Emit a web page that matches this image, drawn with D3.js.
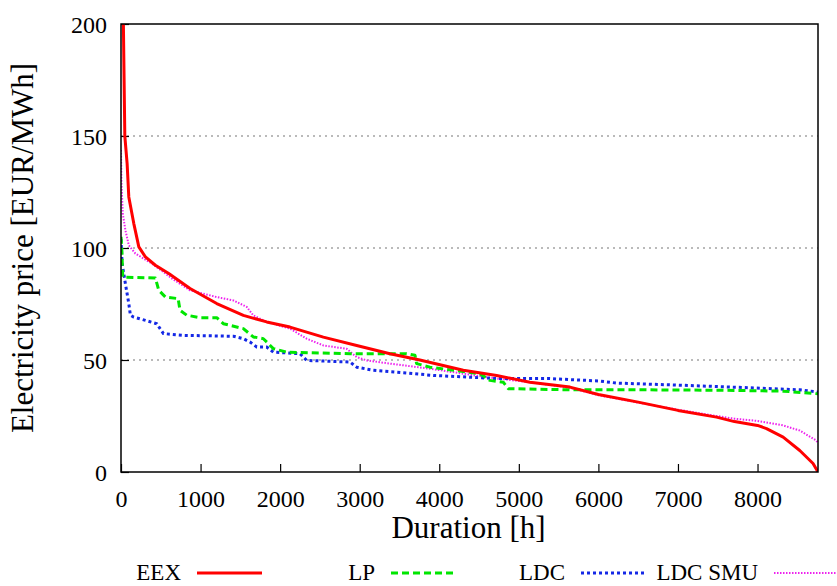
<!DOCTYPE html>
<html>
<head>
<meta charset="utf-8">
<script src="https://cdn.jsdelivr.net/npm/d3@7"></script>
<style>
  html, body { margin: 0; padding: 0; background: #fff; }
  svg { display: block; }
  svg text { font-family: "Liberation Serif", "DejaVu Serif", "Times New Roman", serif; }
</style>
</head>
<body>
<div id="chart"></div>
<script>
// price duration curves (hours, EUR/MWh)
const eexHours = [0, 30, 48, 77, 98, 161, 224, 307, 432, 600, 868, 1203, 1538, 1831, 2124, 2543, 2962, 3380, 3756, 4302, 4721, 5139, 5642, 6000, 6500, 7000, 7485, 7710, 8000, 8113, 8322, 8531, 8698, 8760];
const eexPrice = [260, 200, 150, 137.7, 122.8, 110.9, 100.5, 96, 92.3, 88.6, 81.9, 75.2, 69.9, 67.0, 64.7, 60.2, 56.5, 52.8, 50, 45.4, 43.1, 40.1, 37.9, 34.6, 31.2, 27.5, 24.5, 22.5, 20.8, 19.4, 15.6, 9.6, 3.8, 0];

const lpHours = [0, 10, 22, 432, 475, 558, 718, 742, 826, 994, 1203, 1286, 1538, 1663, 1789, 1915, 2083, 2878, 3590, 3695, 3715, 3883, 4510, 4636, 4804, 4867, 5642, 6500, 7500, 8322, 8760];
const lpPrice = [105, 100, 87, 86.6, 81.1, 78.1, 77.4, 72.2, 70, 68.9, 68.9, 66.2, 64, 60.3, 59.5, 55.1, 53.5, 52.8, 52.8, 52.1, 48.4, 46.8, 43.9, 40.9, 40.1, 37.2, 36.7, 36.7, 36.5, 36.1, 34.9];

const ldcHours = [0, 14, 55, 98, 118, 156, 307, 450, 491, 533, 784, 1412, 1538, 1622, 1706, 1831, 1915, 2250, 2334, 2878, 2962, 3171, 3590, 3925, 4343, 4721, 5390, 6020, 6229, 7066, 7904, 8531, 8760];
const ldcPrice = [104, 93, 84.1, 75.2, 70, 69.2, 67.7, 66.2, 64, 61.8, 61, 60.6, 59.5, 58, 55.8, 55.8, 53.5, 52.8, 49.8, 49.1, 46.8, 45.4, 44.2, 43.1, 42.4, 41.7, 41.7, 40.6, 39.7, 38.7, 37.6, 36.7, 35.7];

const smuHours = [0, 5, 22, 55, 98, 181, 390, 558, 642, 868, 1203, 1412, 1580, 1663, 1831, 2124, 2334, 2543, 2837, 2962, 3088, 3380, 3883, 4302, 4721, 5139, 5642, 6000, 6500, 7000, 7485, 7710, 8000, 8322, 8531, 8741, 8760];
const smuPrice = [143.7, 130, 115.4, 108, 101.2, 97.5, 93, 88.6, 86.3, 81.1, 78.1, 76.6, 73.7, 69.9, 67, 64, 59.5, 56.5, 55, 51.3, 49.8, 48.4, 46.1, 43.9, 41.7, 40.1, 37.6, 34.3, 31, 27.8, 25, 23.8, 22.8, 20.8, 18.5, 14, 12.7];

const xTicks = [0, 1000, 2000, 3000, 4000, 5000, 6000, 7000, 8000];
const yTicks = [0, 50, 100, 150, 200];
const gridValues = [50, 100, 150];

const seriesNames = ["EEX", "LP", "LDC", "LDC SMU"];
const seriesColors = ["#ff0000", "#00e600", "#1428e6", "#ee22ee"];

const W = 837, H = 586;
const margin = {left: 121, right: 19, top: 24, bottom: 114};
const FONT = "'Liberation Serif', 'DejaVu Serif', serif";

const series = [
  {name: seriesNames[0], color: seriesColors[0], width: 3, dash: null, pts: eexHours.map((h, i) => [h, eexPrice[i]])},
  {name: seriesNames[1], color: seriesColors[1], width: 3, dash: "7 4", pts: lpHours.map((h, i) => [h, lpPrice[i]])},
  {name: seriesNames[2], color: seriesColors[2], width: 3, dash: "3 3", pts: ldcHours.map((h, i) => [h, ldcPrice[i]])},
  {name: seriesNames[3], color: seriesColors[3], width: 2, dash: "1.5 1.5", pts: smuHours.map((h, i) => [h, smuPrice[i]])}
];

const svg = d3.select("#chart").append("svg")
  .attr("width", W)
  .attr("height", H)
  .attr("font-family", FONT);

const x = d3.scaleLinear().domain([0, 8760]).range([margin.left, W - margin.right]);
const y = d3.scaleLinear().domain([0, 200]).range([H - margin.bottom, margin.top]);

svg.append("clipPath").attr("id", "plotclip")
  .append("rect")
  .attr("x", x(0)).attr("y", y(200))
  .attr("width", x(8760) - x(0)).attr("height", y(0) - y(200));

// dotted grid
svg.append("g")
  .selectAll("line")
  .data(gridValues)
  .join("line")
  .attr("x1", x(0)).attr("x2", x(8760))
  .attr("y1", d => y(d)).attr("y2", d => y(d))
  .attr("stroke", "#777")
  .attr("stroke-width", 1.2)
  .attr("stroke-dasharray", "2 4");

// axes, ticks pointing inward
const xAxis = svg.append("g")
  .attr("transform", `translate(0,${y(0)})`)
  .call(d3.axisBottom(x).tickValues(xTicks).tickSize(-8).tickPadding(18).tickFormat(d3.format("d")));
const yAxis = svg.append("g")
  .attr("transform", `translate(${x(0)},0)`)
  .call(d3.axisLeft(y).tickValues(yTicks).tickSize(-8).tickPadding(14).tickFormat(d3.format("d")));

[xAxis, yAxis].forEach(g => {
  g.attr("font-family", FONT).attr("font-size", 24);
  g.select(".domain").remove();
  g.selectAll(".tick line").attr("stroke", "#000").attr("stroke-width", 1.2);
  g.selectAll(".tick text").attr("fill", "#000");
});
yAxis.selectAll(".tick text").attr("dy", "0.35em");

// curves
const line = d3.line()
  .x(d => x(d[0]))
  .y(d => y(d[1]));

const curves = svg.append("g").attr("clip-path", "url(#plotclip)");
const drawOrder = [3, 2, 1, 0];
drawOrder.forEach(i => {
  const s = series[i];
  curves.append("path")
    .datum(s.pts)
    .attr("fill", "none")
    .attr("stroke", s.color)
    .attr("stroke-width", s.width)
    .attr("stroke-dasharray", s.dash)
    .attr("stroke-linejoin", "round")
    .attr("d", line);
});

// frame
svg.append("rect")
  .attr("x", x(0)).attr("y", y(200))
  .attr("width", x(8760) - x(0)).attr("height", y(0) - y(200))
  .attr("fill", "none")
  .attr("stroke", "#000")
  .attr("stroke-width", 1.5);

// axis titles
svg.append("text")
  .attr("x", (x(0) + x(8760)) / 2 - 1)
  .attr("y", 538)
  .attr("text-anchor", "middle")
  .attr("font-size", 31)
  .text("Duration [h]");

svg.append("text")
  .attr("transform", `translate(33,${(y(0) + y(200)) / 2}) rotate(-90)`)
  .attr("text-anchor", "middle")
  .attr("font-size", 31)
  .text("Electricity price [EUR/MWh]");

// legend along the bottom
const legendTextEnd = [181, 375, 565, 758];
const legend = svg.append("g");
series.forEach((s, i) => {
  legend.append("text")
    .attr("x", legendTextEnd[i])
    .attr("y", 580)
    .attr("text-anchor", "end")
    .attr("font-size", 23)
    .text(s.name);
  legend.append("line")
    .attr("x1", legendTextEnd[i] + 16)
    .attr("x2", legendTextEnd[i] + 81)
    .attr("y1", 573).attr("y2", 573)
    .attr("stroke", s.color)
    .attr("stroke-width", s.width)
    .attr("stroke-dasharray", s.dash);
});
</script>
</body>
</html>
